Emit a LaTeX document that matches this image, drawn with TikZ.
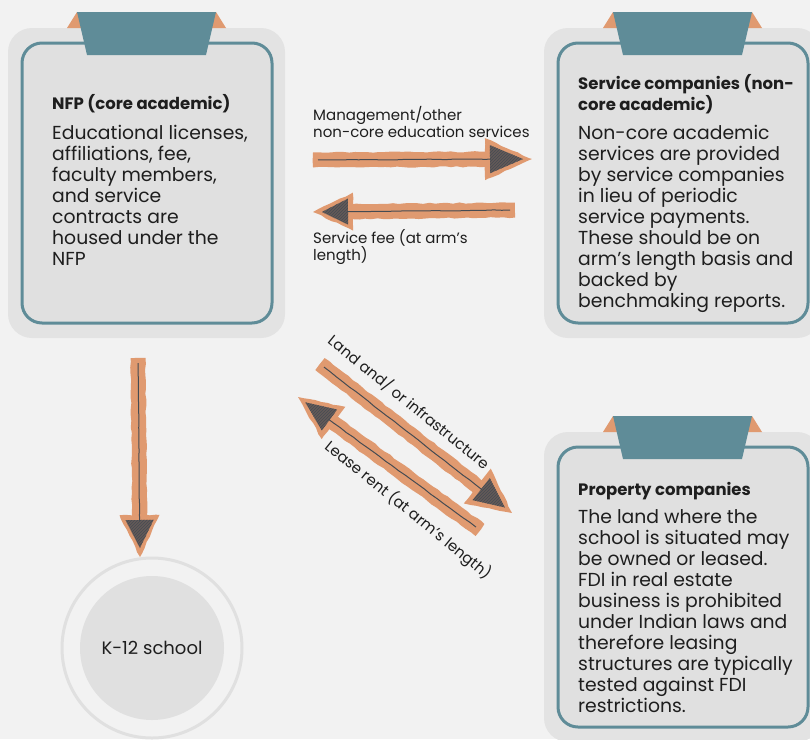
\documentclass[tikz,border=0pt]{standalone}
\usepackage{fontspec}
\setmainfont{Poppins}
\usetikzlibrary{calc,patterns,decorations.pathmorphing}
\definecolor{bg}{HTML}{F2F2F2}
\definecolor{outerg}{HTML}{E3E3E3}
\definecolor{innerg}{HTML}{E0E0E0}
\definecolor{tabteal}{HTML}{5F8C98}
\definecolor{orng}{HTML}{E09A70}
\definecolor{ink}{HTML}{454B52}
\definecolor{txt}{HTML}{1E1E1E}
\pgfmathsetseed{7}
\tikzset{
 outercard/.style={fill=outerg, rounded corners=24pt},
 innercard/.style={fill=innerg, draw=tabteal, line width=3pt, rounded corners=20pt},
 tabshape/.style={fill=tabteal},
 ear/.style={fill=orng},
 cardtitle/.style={anchor=base west, inner sep=0pt, align=left, font=\fontsize{16.5}{17}\selectfont\bfseries, text=txt},
 cardbody/.style={anchor=base west, inner sep=0pt, align=left, font=\fontsize{18.8}{21}\selectfont, text=txt},
 lbl/.style={inner sep=0pt, align=left, font=\fontsize{15}{17}\selectfont, text=txt},
 rough/.style={decorate, decoration={random steps, segment length=6pt, amplitude=0.6pt}},
 shaft/.style={fill=orng, rough},
 spine/.style={draw=ink, line width=1pt, decorate, decoration={random steps, segment length=8pt, amplitude=0.3pt}},
 headfill/.style={fill=orng, rough},
 hatch/.style={fill=ink, opacity=.8},
}
\newcommand\drawcard[2]{%
 \begin{scope}[shift={(#1,#2)}]
  \fill[outercard] (8,28) rectangle (285,338);
  \fill[ear] (67,28) -- (77,12) -- (87,28) -- cycle;
  \fill[ear] (226,28) -- (216,12) -- (206,28) -- cycle;
  \draw[innercard] (22,43) rectangle (272,323);
  \fill[tabshape] (77,12) -- (216,12) -- (206,55) -- (87,55) -- cycle;
 \end{scope}}
% #1 tail, #2 tip, #3 head length, #4 head half width, #5 inner half width
\newcommand\skarrow[5]{%
 \coordinate (hb) at ($(#2)!#3!(#1)$);
 \coordinate (hb2) at ($(hb)!2pt!(#2)$);
 \fill[shaft] ($(#1)!7.5pt!90:(#2)$) -- ($(hb2)!7.5pt!-90:(#1)$) -- ($(hb2)!7.5pt!90:(#1)$) -- ($(#1)!7.5pt!-90:(#2)$) -- cycle;
 \fill[headfill] ($(hb)!#4!90:(#2)$) -- (#2) -- ($(hb)!#4!-90:(#2)$) -- cycle;
 \draw[spine] ($(#1)!5pt!(#2)$) -- ($(hb)!6pt!(#2)$);
 \coordinate (hi) at ($(hb)!5pt!(#2)$);
 \fill[hatch] ($(hi)!#5!90:(#2)$) -- ($(#2)!9pt!(#1)$) -- ($(hi)!#5!-90:(#2)$) -- cycle;
 \fill[pattern=north east lines, pattern color=ink] ($(hi)!#5!90:(#2)$) -- ($(#2)!9pt!(#1)$) -- ($(hi)!#5!-90:(#2)$) -- cycle;
}
\begin{document}
\begin{tikzpicture}[x=1pt,y=-1pt]
\useasboundingbox (0,0) rectangle (810,739);
\fill[bg] (0,0) rectangle (810,739);
\clip (0,0) rectangle (810,739);

% cards
\drawcard{0}{0}
\drawcard{536}{0}
\drawcard{536}{404}

% multi-line nodes are anchored at the baseline of their last line
\node[cardtitle] (nfpT) at (52,109) {NFP (core academic)};
\node[cardbody] (nfp) at (52,265.5) {Educational licenses,\\affiliations, fee,\\faculty members,\\and service\\contracts are\\housed under the\\NFP};

\node[cardtitle] (svcT) at (578,110) {Service companies (non-\\core academic)};
\node[cardbody] (svc) at (578,307.5) {Non-core academic\\services are provided\\by service companies\\in lieu of periodic\\service payments.\\These should be on\\arm’s length basis and\\backed by\\benchmaking reports.};

\node[cardtitle] (propT) at (578,495) {Property companies};
\node[cardbody] (prop) at (578,712) {The land where the\\school is situated may\\be owned or leased.\\FDI in real estate\\business is prohibited\\under Indian laws and\\therefore leasing\\structures are typically\\tested against FDI\\restrictions.};

% school
\node[circle, draw=innerg, line width=3pt, minimum size=180pt, inner sep=0pt] (ring) at (152,648) {};
\node[circle, fill=innerg, minimum size=144pt, inner sep=0pt, font=\fontsize{18}{20}\selectfont, text=txt] (school) at (152,648) {K-12 school};

% arrow end points
\coordinate (m1a) at (313,160);
\coordinate (m1b) at (532,159);
\coordinate (f1a) at (515,210);
\coordinate (f1b) at (313,212);
\coordinate (la) at (320,364);
\coordinate (lb) at (512,513);
\coordinate (ra) at (480,530);
\coordinate (rb) at (298,397);
\coordinate (va) at (138,358);
\coordinate (vb) at (140,557);

\skarrow{m1a}{m1b}{47pt}{21pt}{14pt}
\skarrow{f1a}{f1b}{40pt}{19pt}{13pt}
\skarrow{la}{lb}{44pt}{22pt}{14pt}
\skarrow{ra}{rb}{44pt}{20pt}{13pt}
\skarrow{va}{vb}{42pt}{20pt}{14pt}

% labels
\node[lbl, anchor=base west] (l1) at (313,137) {Management/other\\non-core education services};
\node[lbl, anchor=base west] (l2) at (313,260) {Service fee (at arm’s\\length)};
\node[lbl, rotate=-39] (l3) at (409,402) {Land and/ or infrastructure};
\node[lbl, rotate=-39] (l4) at (408,510) {Lease rent (at arm’s length)};
\end{tikzpicture}
\end{document}
